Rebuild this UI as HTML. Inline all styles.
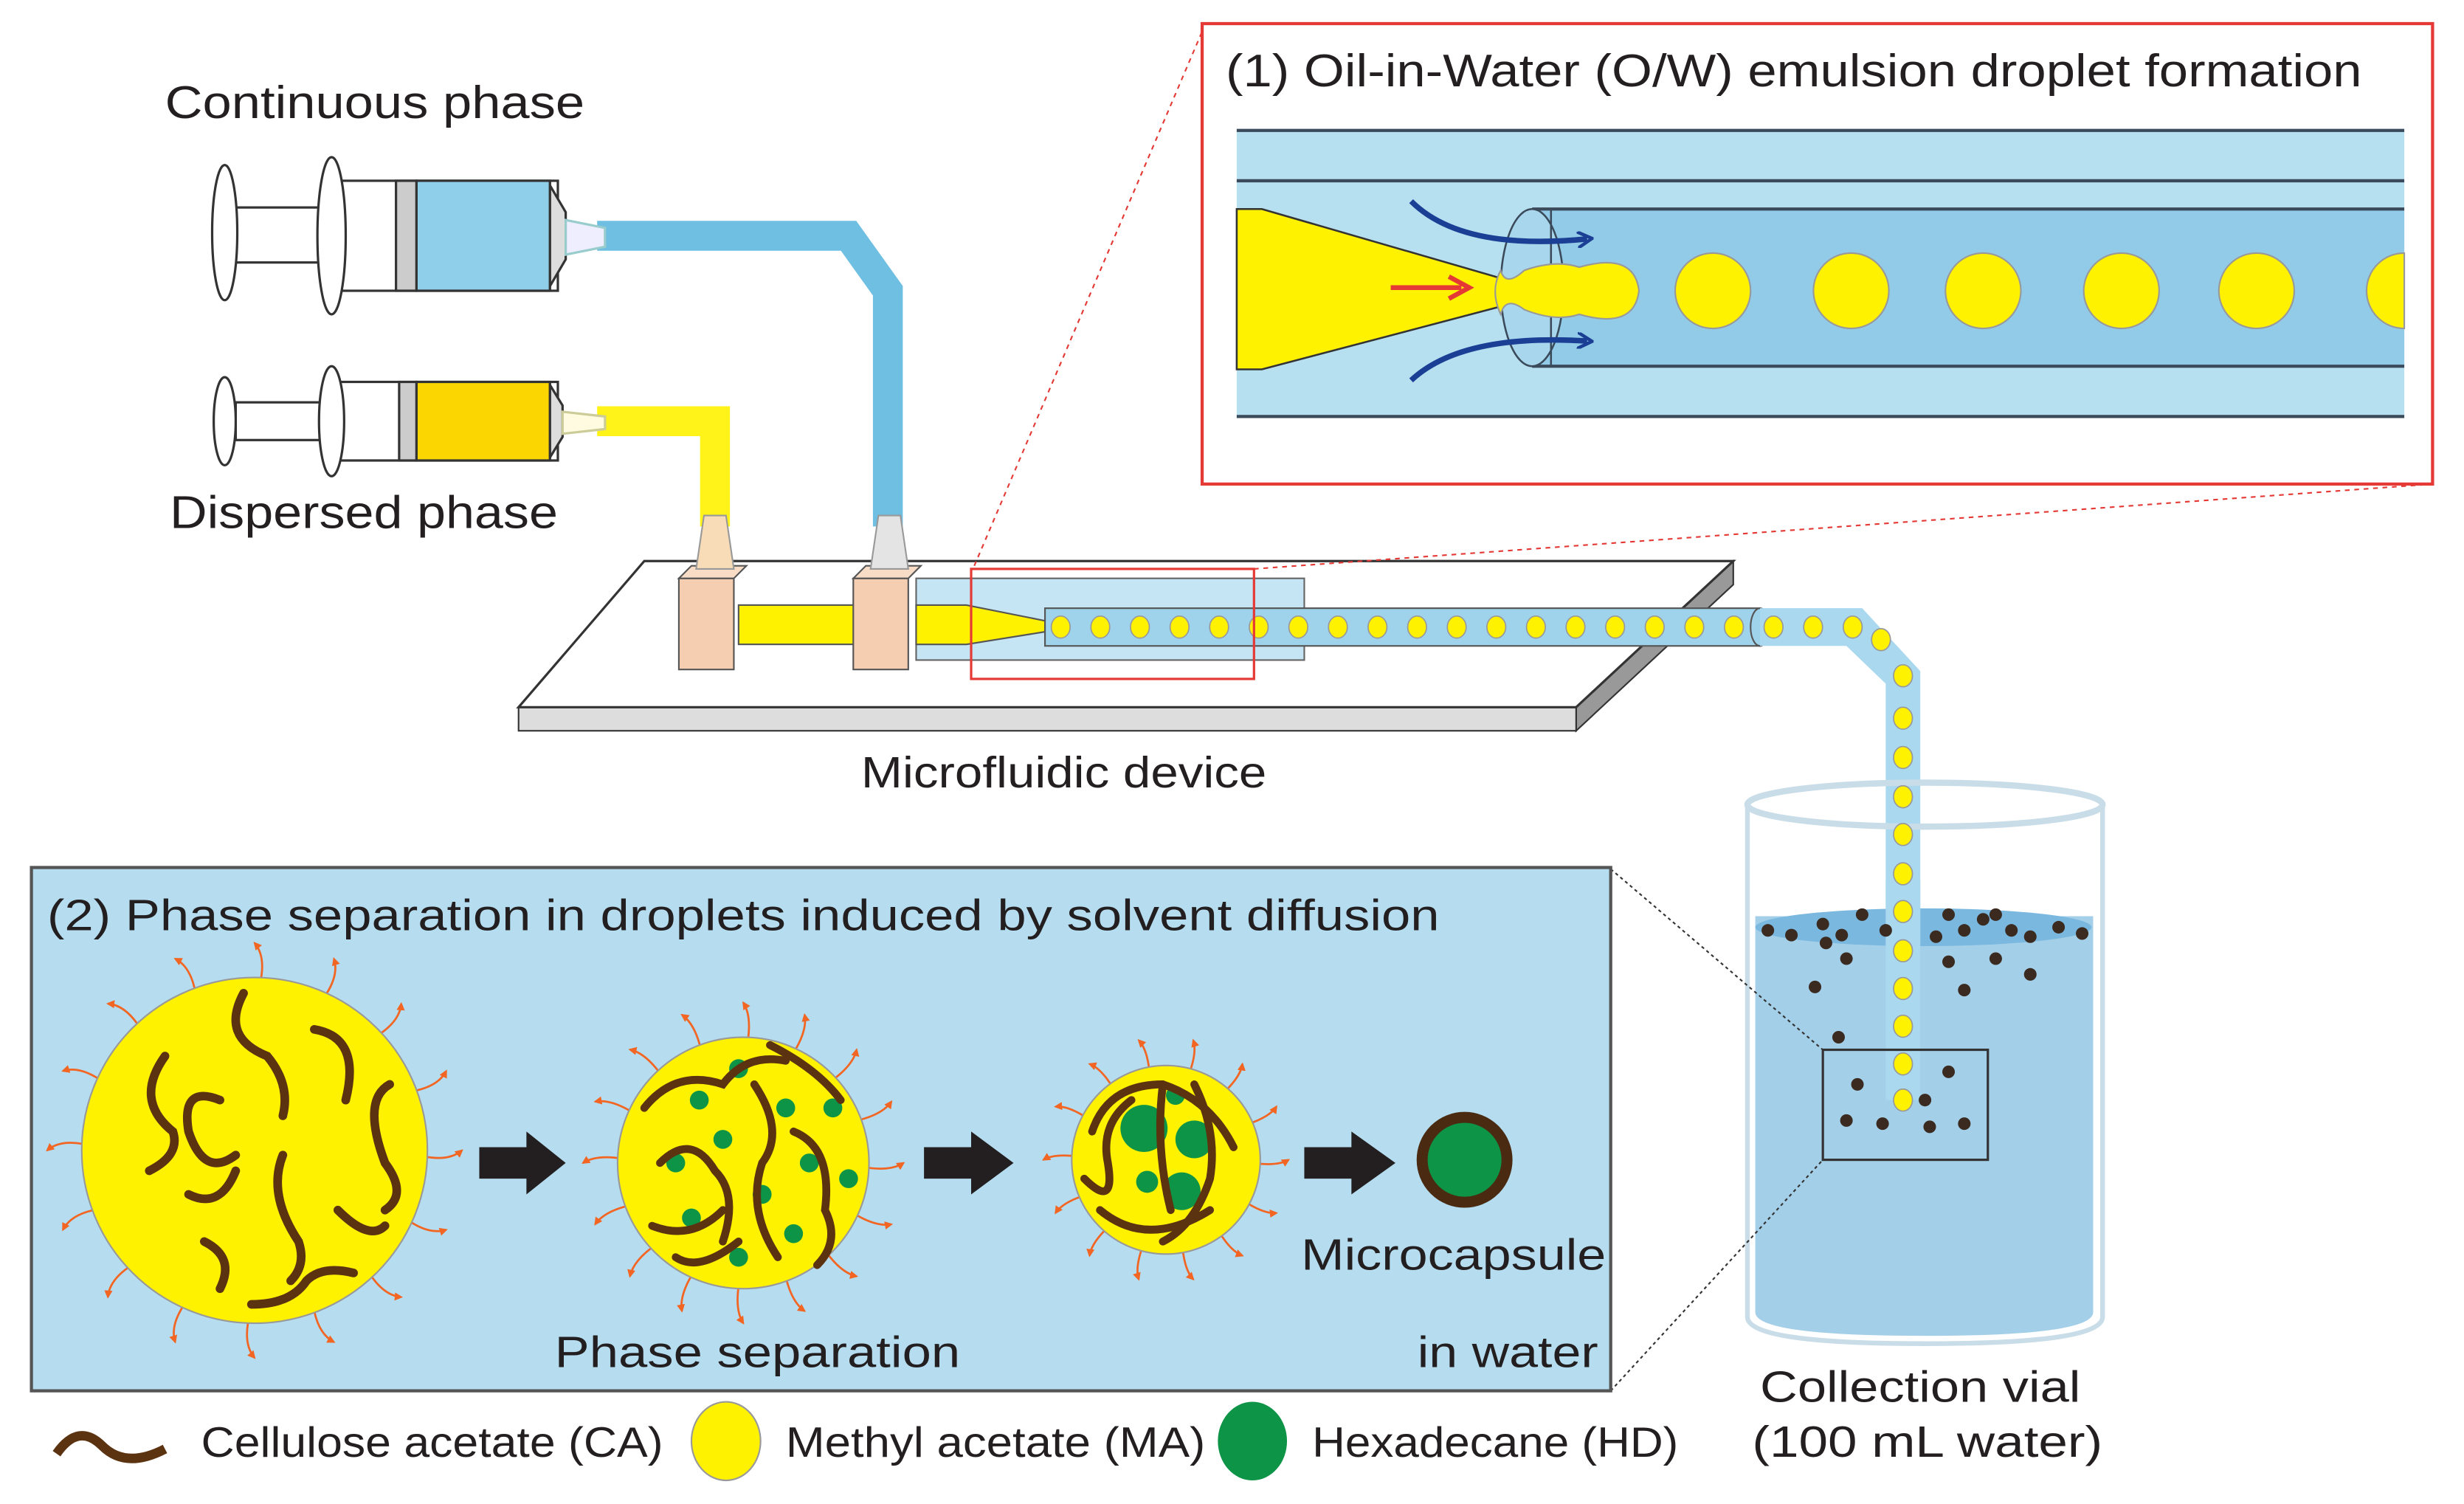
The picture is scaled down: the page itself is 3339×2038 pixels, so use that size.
<!DOCTYPE html>
<html><head><meta charset="utf-8"><style>
html,body{margin:0;padding:0;background:#fff;}
svg{display:block;}
text{font-family:"Liberation Sans",sans-serif;fill:#231f20;}
</style></head><body>
<svg id="s" width="3339" height="2038" viewBox="0 0 1568 957" xmlns="http://www.w3.org/2000/svg">
<defs>
<marker id="oa" viewBox="0 0 10 10" refX="8" refY="5" markerWidth="4" markerHeight="4" orient="auto"><path d="M0,0 L10,5 L0,10 z" fill="#f26522"/></marker>
<marker id="ba" viewBox="0 0 10 10" refX="6" refY="5" markerWidth="3" markerHeight="3" orient="auto"><path d="M0,0 L9,5 L0,10" fill="none" stroke="#1b3f94" stroke-width="2"/></marker>
</defs>
<!-- labels -->
<text x="105" y="75" font-size="29" textLength="267" lengthAdjust="spacingAndGlyphs">Continuous phase</text>
<text x="108" y="336" font-size="29" textLength="247" lengthAdjust="spacingAndGlyphs">Dispersed phase</text>
<text x="548" y="501" font-size="28" textLength="258" lengthAdjust="spacingAndGlyphs">Microfluidic device</text>

<!-- tubes -->
<path d="M380,150 L540,150 L565,185 L565,335" fill="none" stroke="#6fbfe3" stroke-width="19"/>
<path d="M380,268 L455,268 L455,335" fill="none" stroke="#fff200" stroke-width="19" opacity="0.9"/>

<!-- syringe top -->
<g stroke="#333" stroke-width="1.5">
<rect x="150" y="132" width="70" height="35" fill="#fff"/>
<ellipse cx="143" cy="148" rx="8" ry="43" fill="#fff"/>
<rect x="215" y="115" width="140" height="70" fill="#fff"/>
<rect x="265" y="115" width="85" height="70" fill="#8fcfea"/>
<rect x="252" y="115" width="13" height="70" fill="#ccc"/>
<ellipse cx="211" cy="150" rx="9" ry="50" fill="#fff"/>
<path d="M350,118 L360,135 L360,165 L350,182 z" fill="#ddd"/>
<path d="M360,140 L385,145 L385,157 L360,162 z" fill="#eef" stroke="#9cc"/>
</g>
<!-- syringe bottom -->
<g stroke="#333" stroke-width="1.5">
<rect x="150" y="256" width="70" height="24" fill="#fff"/>
<ellipse cx="143" cy="268" rx="7" ry="28" fill="#fff"/>
<rect x="215" y="243" width="140" height="50" fill="#fff"/>
<rect x="265" y="243" width="85" height="50" fill="#fcd600"/>
<rect x="254" y="243" width="11" height="50" fill="#ccc"/>
<ellipse cx="211" cy="268" rx="8" ry="35" fill="#fff"/>
<path d="M350,245 L358,258 L358,278 L350,291 z" fill="#ddd"/>
<path d="M358,262 L385,265 L385,273 L358,276 z" fill="#fffbe0" stroke="#cc9"/>
</g>

<!-- chip plate -->
<path d="M1003,450 L1103,357 L1103,372 L1003,465 z" fill="#999" stroke="#333"/>
<rect x="330" y="450" width="673" height="15" fill="#ddd" stroke="#333"/>
<path d="M410,357 L1103,357 L1003,450 L330,450 z" fill="#fff" stroke="#333" stroke-width="1.5"/>

<!-- glass channel -->
<rect x="583" y="368" width="247" height="52" fill="#bfe3f3" stroke="#555" opacity="0.9"/>
<rect x="470" y="385" width="75" height="25" fill="#fff200" stroke="#555"/>
<path d="M583,385 L615,385 L665,395 L665,402 L615,410 L583,410 z" fill="#fff200" stroke="#555"/>
<rect x="665" y="387" width="455" height="24" fill="#9fd3ec" stroke="#555" stroke-width="1"/>
<ellipse cx="1120" cy="399" rx="6" ry="12" fill="#9fd3ec" stroke="#555"/>
<path d="M1120,387 L1185,387 L1222,427 L1222,700 L1200,700 L1200,435 L1175,411 L1120,411 z" fill="#a9d8ef"/>
<g fill="#fff200" stroke="#999" stroke-width="0.8" id="drops"></g>
<!-- connectors -->
<rect x="432" y="368" width="35" height="58" fill="#f5cdb0" stroke="#555"/>
<path d="M432,368 L440,360 L475,360 L467,368 z" fill="#f9dcc6" stroke="#555"/>
<rect x="543" y="368" width="35" height="58" fill="#f5cdb0" stroke="#555"/>
<path d="M543,368 L551,360 L586,360 L578,368 z" fill="#f9dcc6" stroke="#555"/>
<!-- nozzles -->
<path d="M443,362 L448,328 L462,328 L467,362 z" fill="#f8dcb8" stroke="#999"/>
<path d="M554,362 L559,328 L573,328 L578,362 z" fill="#e4e4e4" stroke="#999"/>
<!-- red small rect + zoom lines -->
<rect x="618" y="362" width="180" height="70" fill="none" stroke="#e53935" stroke-width="1.5"/>
<line x1="620" y1="360" x2="765" y2="20" stroke="#e53935" stroke-dasharray="3,3"/>
<line x1="798" y1="362" x2="1548" y2="308" stroke="#e53935" stroke-dasharray="3,3"/>

<!-- zoom box (1) -->
<rect x="765" y="15" width="783" height="293" fill="#fff" stroke="#e53935" stroke-width="2"/>
<text x="780" y="55" font-size="29" textLength="723" lengthAdjust="spacingAndGlyphs">(1) Oil-in-Water (O/W) emulsion droplet formation</text>
<rect x="787" y="82" width="743" height="183" fill="#b6dff0"/>
<rect x="975" y="133" width="555" height="100" fill="#92cbe7"/>
<g stroke="#3a4a5a" stroke-width="2"><line x1="787" y1="83" x2="1530" y2="83"/><line x1="787" y1="115" x2="1530" y2="115"/><line x1="787" y1="265" x2="1530" y2="265"/><line x1="975" y1="133" x2="1530" y2="133"/><line x1="975" y1="233" x2="1530" y2="233"/></g>
<ellipse cx="975" cy="183" rx="20" ry="50" fill="#a8d6ec" stroke="#3a4a5a" stroke-width="1.2"/>
<line x1="987" y1="133" x2="987" y2="233" stroke="#3a4a5a" stroke-width="1.2"/>
<path d="M787,133 L803,133 L955,177 L955,195 L803,235 L787,235 z" fill="#fff200" stroke="#333" stroke-width="1.2"/>
<path d="M955,172 Q958,183 970,172 Q990,165 1005,170 Q1040,160 1043,185 Q1040,210 1005,200 Q990,205 970,197 Q958,188 955,200 Q948,185 955,172 z" fill="#fff200" stroke="#999"/>
<g fill="#fff200" stroke="#999"><circle cx="1090" cy="185" r="24"/><circle cx="1178" cy="185" r="24"/><circle cx="1262" cy="185" r="24"/><circle cx="1350" cy="185" r="24"/><circle cx="1436" cy="185" r="24"/><path d="M1530,161 A24,24 0 0 0 1530,209 z"/></g>
<path d="M885,183 L930,183" stroke="#e53935" stroke-width="3" fill="none"/><path d="M922,176 L935,183 L922,190" stroke="#e53935" stroke-width="3" fill="none"/>
<path d="M898,128 Q930,160 1010,152" stroke="#1b3f94" stroke-width="3.5" fill="none" marker-end="url(#ba)"/>
<path d="M898,242 Q930,212 1010,217" stroke="#1b3f94" stroke-width="3.5" fill="none" marker-end="url(#ba)"/>

<!-- beaker -->
<path d="M1117,583 L1117,835 Q1117,850 1225,850 Q1332,850 1332,835 L1332,583 z" fill="#a3cfe8"/>
<ellipse cx="1224" cy="590" rx="107" ry="12" fill="#7ab8e0"/>
<path d="M1112,510 L1112,838 Q1112,855 1225,855 Q1338,855 1338,838 L1338,510" fill="none" stroke="#c9dde8" stroke-width="3"/>
<ellipse cx="1225" cy="512" rx="113" ry="14" fill="none" stroke="#c9dde8" stroke-width="4"/>
<rect x="1200" y="560" width="22" height="140" fill="#a9d8ef"/>
<g id="vdrops" fill="#fff200" stroke="#999" stroke-width="0.8"></g>
<g id="dots" fill="#3a2a20"></g>
<rect x="1160" y="668" width="105" height="70" fill="none" stroke="#333" stroke-width="1.5"/>
<line x1="1025" y1="553" x2="1160" y2="668" stroke="#333" stroke-dasharray="2,2"/>
<line x1="1025" y1="885" x2="1160" y2="738" stroke="#333" stroke-dasharray="2,2"/>
<text x="1120" y="892" font-size="28" textLength="204" lengthAdjust="spacingAndGlyphs">Collection vial</text>
<text x="1115" y="927" font-size="28" textLength="223" lengthAdjust="spacingAndGlyphs">(100 mL water)</text>

<!-- box (2) -->
<rect x="20" y="552" width="1005" height="333" fill="#b5ddef" stroke="#555" stroke-width="2"/>
<text x="30" y="592" font-size="28" textLength="886" lengthAdjust="spacingAndGlyphs">(2) Phase separation in droplets induced by solvent diffusion</text>
<g id="rad"></g>
<circle cx="162" cy="732" r="110" fill="#fff200" stroke="#999"/>
<g stroke="#5c3310" stroke-width="5.5" fill="none" stroke-linecap="round">
<path d="M155,632 Q140,660 170,672 Q185,690 180,710"/>
<path d="M105,672 Q85,700 110,720 Q115,735 95,745"/>
<path d="M140,700 Q115,690 120,720 Q130,750 150,735"/>
<path d="M200,655 Q230,660 220,700"/>
<path d="M248,690 Q230,700 245,740 Q260,760 245,770"/>
<path d="M180,735 Q170,760 190,790 Q195,805 185,815"/>
<path d="M120,760 Q140,770 150,745"/>
<path d="M130,790 Q150,800 140,820"/>
<path d="M160,830 Q185,830 195,815 Q205,805 225,810"/>
<path d="M215,770 Q235,790 245,780"/>
</g>
<circle cx="473" cy="740" r="80" fill="#fff200" stroke="#999"/>
<g fill="#0d9447"><circle cx="445" cy="700" r="6"/><circle cx="470" cy="680" r="6"/><circle cx="500" cy="705" r="6"/><circle cx="430" cy="740" r="6"/><circle cx="460" cy="725" r="6"/><circle cx="515" cy="740" r="6"/><circle cx="485" cy="760" r="6"/><circle cx="440" cy="775" r="6"/><circle cx="505" cy="785" r="6"/><circle cx="470" cy="800" r="6"/><circle cx="530" cy="705" r="6"/><circle cx="540" cy="750" r="6"/></g>
<g stroke="#5c3310" stroke-width="5" fill="none" stroke-linecap="round">
<path d="M410,705 Q430,680 460,690 Q475,670 500,675"/><path d="M420,740 Q440,720 455,745 Q470,760 460,790"/><path d="M480,690 Q500,720 485,740 Q475,770 495,800"/><path d="M505,720 Q530,730 525,770 Q535,790 520,805"/><path d="M415,780 Q440,790 460,770"/><path d="M430,800 Q445,810 470,790"/><path d="M490,665 Q520,680 535,700"/></g>
<circle cx="742" cy="738" r="60" fill="#fff200" stroke="#999"/>
<g fill="#0d9447"><circle cx="728" cy="718" r="15"/><circle cx="760" cy="725" r="12"/><circle cx="752" cy="758" r="12"/><circle cx="730" cy="752" r="7"/><circle cx="748" cy="697" r="6"/></g>
<g stroke="#5c3310" stroke-width="5" fill="none" stroke-linecap="round">
<path d="M695,720 Q705,690 740,690 Q770,700 785,730"/><path d="M690,750 Q710,770 705,740 Q700,715 720,700"/><path d="M760,690 Q775,720 770,750 Q760,780 740,790"/><path d="M700,770 Q730,795 770,770"/><path d="M740,690 Q735,730 745,770"/></g>
<circle cx="932" cy="738" r="27" fill="#0d9447" stroke="#4a2a10" stroke-width="7"/>
<g fill="#231f20"><path d="M305,730 L335,730 L335,720 L360,740 L335,760 L335,750 L305,750 z"/><path d="M588,730 L618,730 L618,720 L645,740 L618,760 L618,750 L588,750 z"/><path d="M830,730 L860,730 L860,720 L888,740 L860,760 L860,750 L830,750 z"/></g>
<text x="828" y="808" font-size="28" textLength="194" lengthAdjust="spacingAndGlyphs">Microcapsule</text>
<text x="902" y="870" font-size="28" textLength="115" lengthAdjust="spacingAndGlyphs">in water</text>
<text x="353" y="870" font-size="28" textLength="258" lengthAdjust="spacingAndGlyphs">Phase separation</text>

<!-- legend -->
<path d="M36,925 Q50,905 65,920 Q80,935 105,922" stroke="#5c3310" stroke-width="6" fill="none"/>
<text x="128" y="927" font-size="27" textLength="294" lengthAdjust="spacingAndGlyphs">Cellulose acetate (CA)</text>
<ellipse cx="462" cy="917" rx="22" ry="25" fill="#fff200" stroke="#999"/>
<text x="500" y="927" font-size="27" textLength="267" lengthAdjust="spacingAndGlyphs">Methyl acetate (MA)</text>
<ellipse cx="797" cy="917" rx="22" ry="25" fill="#0d9447"/>
<text x="835" y="927" font-size="27" textLength="233" lengthAdjust="spacingAndGlyphs">Hexadecane (HD)</text>
</svg>
<script>
var NS="http://www.w3.org/2000/svg";
function el(p,t,a){var e=document.createElementNS(NS,t);for(var k in a)e.setAttribute(k,a[k]);p.appendChild(e);return e;}
var d=document.getElementById("drops");
for(var x=675;x<=1180;x+=25.2){el(d,"ellipse",{cx:x,cy:399,rx:6,ry:7});}
var pts=[[1197,407],[1211,430],[1211,457],[1211,482],[1211,507],[1211,531],[1211,556],[1211,580],[1211,605],[1211,629],[1211,653],[1211,677],[1211,700]];
var v=document.getElementById("vdrops");pts.forEach(function(p){el(v,"ellipse",{cx:p[0],cy:p[1],rx:6,ry:7});});
var dots=document.getElementById("dots");
[[1125,592],[1140,595],[1160,588],[1172,595],[1185,582],[1200,592],[1240,582],[1250,592],[1262,585],[1280,592],[1292,596],[1310,590],[1325,594],[1232,596],[1270,582],[1155,628],[1175,610],[1240,612],[1270,610],[1292,620],[1250,630],[1170,660],[1182,690],[1240,682],[1225,700],[1175,713],[1198,715],[1228,717],[1250,715],[1162,600]].forEach(function(p){el(dots,"circle",{cx:p[0],cy:p[1],r:4});});
var rad=document.getElementById("rad");
function rays(cx,cy,r,n,len){for(var i=0;i<n;i++){var a=i*2*Math.PI/n;var x1=cx+Math.cos(a)*(r-15),y1=cy+Math.sin(a)*(r-15),x2=cx+Math.cos(a)*(r+len),y2=cy+Math.sin(a)*(r+len);
el(rad,"path",{d:"M"+x1+","+y1+" Q"+(cx+Math.cos(a+0.08)*(r+len/2))+","+(cy+Math.sin(a+0.08)*(r+len/2))+" "+x2+","+y2,stroke:"#f26522","stroke-width":1.3,fill:"none","marker-end":"url(#oa)"});}}
rays(162,732,110,16,22);rays(473,740,80,16,22);rays(742,738,60,14,18);
</script>
</body></html>
